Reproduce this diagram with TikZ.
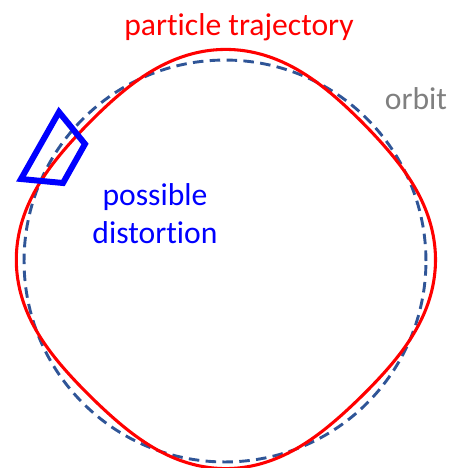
\documentclass[tikz,border=0pt]{standalone}
\usepackage{fontspec}
\setmainfont{Carlito}[Ligatures=NoCommon]
\begin{document}
\begin{tikzpicture}[x=0.02cm,y=-0.02cm,
  lbl/.style={anchor=base, inner sep=0pt, font=\fontsize{18}{21.6}\selectfont},
  orbitline/.style={draw=orbitblue, line width=1.65pt, dash pattern=on 6pt off 3.6pt},
  trajline/.style={draw=red, line width=1.75pt},
  distbox/.style={draw=blue, line width=3.4pt, line join=miter}]
\definecolor{orbitblue}{RGB}{47,85,151}
\definecolor{orbitgray}{RGB}{128,128,128}
\useasboundingbox (0,0) rectangle (451,468);
% orbit
\draw[orbitline] (225,261) circle[radius=4.02cm];
% particle trajectory
\draw[trajline] plot[smooth cycle, domain=0:358, samples=180, variable=\t]
  ({225.5 + (201.3 + 8.3*cos(4*\t) + 0.4*cos(\t) + 2*sin(\t))*cos(\t)},
   {261 - (201.3 + 8.3*cos(4*\t) + 0.4*cos(\t) + 2*sin(\t))*sin(\t)});
% possible distortion box
\draw[distbox] (59,112) -- (85,144) -- (63,183) -- (21,179) -- cycle;
% labels
\node[lbl, text=red] (title) at (239,35) {particle trajectory};
\node[lbl, text=orbitgray] (orbit) at (416,109) {orbit};
\node[lbl, text=blue] (dist1) at (155,205) {possible};
\node[lbl, text=blue] (dist2) at (155,243) {distortion};
\end{tikzpicture}
\end{document}
